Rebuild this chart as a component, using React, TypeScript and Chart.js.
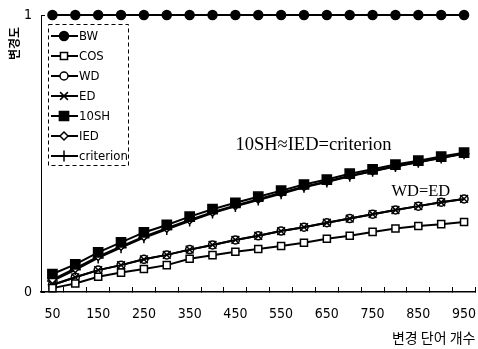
import React, { useEffect, useRef } from 'react';
import { Chart, registerables } from 'chart.js';
import { drawPoint } from 'chart.js/helpers';

Chart.register(...registerables);

// ---------- data ----------
const categories = ['50', '100', '150', '200', '250', '300', '350', '400', '450', '500', '550', '600', '650', '700', '750', '800', '850', '900', '950'];
const bwValues = [1, 1, 1, 1, 1, 1, 1, 1, 1, 1, 1, 1, 1, 1, 1, 1, 1, 1, 1];
const cosValues = [0.014, 0.031, 0.055, 0.07, 0.083, 0.097, 0.12, 0.133, 0.145, 0.155, 0.166, 0.178, 0.192, 0.203, 0.217, 0.229, 0.238, 0.245, 0.253];
const wdValues = [0.026, 0.053, 0.079, 0.097, 0.118, 0.134, 0.153, 0.17, 0.188, 0.203, 0.22, 0.234, 0.25, 0.265, 0.281, 0.296, 0.31, 0.324, 0.336];
const edValues = [0.025, 0.053, 0.079, 0.097, 0.118, 0.134, 0.153, 0.17, 0.188, 0.203, 0.22, 0.234, 0.25, 0.265, 0.281, 0.296, 0.31, 0.324, 0.336];
const tenShValues = [0.065, 0.1, 0.143, 0.179, 0.215, 0.242, 0.272, 0.299, 0.322, 0.344, 0.366, 0.388, 0.406, 0.427, 0.443, 0.46, 0.474, 0.489, 0.503];
const iedValues = [0.045, 0.085, 0.128, 0.165, 0.2, 0.23, 0.26, 0.288, 0.312, 0.335, 0.358, 0.38, 0.399, 0.42, 0.437, 0.454, 0.469, 0.485, 0.5];
const criterionValues = [0.04, 0.08, 0.123, 0.16, 0.196, 0.226, 0.256, 0.285, 0.309, 0.332, 0.355, 0.378, 0.397, 0.418, 0.436, 0.453, 0.468, 0.484, 0.499];
const seriesNames = ['BW', 'COS', 'WD', 'ED', '10SH', 'IED', 'criterion'];
const yTickValues = [0, 1];
const xTitle = '변경 단어 개수';
const yTitle = '변경도';
const note1 = '10SH≈IED=criterion';
const note2 = 'WD=ED';

const NARROW = "'Liberation Sans Narrow', 'DejaVu Sans Condensed', 'Liberation Sans', Arial, sans-serif";
const SERIF = "'Liberation Serif', 'DejaVu Serif', serif";
const KR = "'Noto Sans CJK KR', 'Noto Sans', sans-serif";

function mk(label: string, data: number[], style: string, radius: number, fill: string, order = 0) {
  return {
    label,
    data,
    order,
    borderColor: '#000',
    borderWidth: 2,
    pointStyle: style,
    pointRadius: radius,
    pointHoverRadius: radius,
    pointBackgroundColor: fill,
    pointBorderColor: '#000',
    pointBorderWidth: 1.5,
    tension: 0,
    clip: false as any,
  };
}

// stretch the plot area to the right edge (keeps a 2.5px margin)
const areaPlugin = {
  id: 'areaFix',
  afterLayout(chart: any) {
    const xs = chart.scales.x;
    const target = chart.width - 2.5;
    const d = target - chart.chartArea.right;
    if (Math.abs(d) < 0.01) return;
    chart.chartArea.right = target;
    chart.chartArea.width += d;
    xs.right = target;
    xs.width += d;
    xs.configure();
  },
};

const legendPlugin = {
  id: 'boxLegend',
  afterDatasetsDraw(chart: any) {
    const { ctx, chartArea } = chart;
    const x0 = chartArea.left + 7;
    const y0 = chartArea.top + 9;
    const w = 80;
    const h = 141;
    ctx.save();
    ctx.fillStyle = '#fff';
    ctx.fillRect(x0, y0, w, h);
    ctx.setLineDash([4, 3]);
    ctx.strokeStyle = '#000';
    ctx.lineWidth = 1;
    ctx.strokeRect(x0 + 0.5, y0 + 0.5, w, h);
    ctx.setLineDash([]);
    chart.data.datasets.forEach((ds: any, i: number) => {
      const y = y0 + 12 + i * 20;
      ctx.beginPath();
      ctx.moveTo(x0 + 3, y);
      ctx.lineTo(x0 + 30, y);
      ctx.lineWidth = 2;
      ctx.strokeStyle = '#000';
      ctx.stroke();
      ctx.fillStyle = ds.pointBackgroundColor;
      ctx.lineWidth = ds.pointBorderWidth;
      drawPoint(ctx, { pointStyle: ds.pointStyle, radius: ds.pointRadius, rotation: 0, borderWidth: ds.pointBorderWidth } as any, x0 + 16, y);
      ctx.fillStyle = '#000';
      ctx.font = `13px ${NARROW}`;
      ctx.textAlign = 'left';
      ctx.textBaseline = 'middle';
      ctx.fillText(ds.label, x0 + 31, y + 1);
    });
    ctx.restore();
  },
};

const notesPlugin = {
  id: 'notes',
  afterDatasetsDraw(chart: any) {
    const { ctx } = chart;
    const xs = chart.scales.x;
    const ys = chart.scales.y;
    ctx.save();
    ctx.fillStyle = '#000';
    ctx.textAlign = 'left';
    ctx.textBaseline = 'alphabetic';
    ctx.font = `18.5px ${SERIF}`;
    ctx.fillText(note1, xs.getPixelForValue(8), ys.getPixelForValue(0.512));
    ctx.font = `16.5px ${SERIF}`;
    ctx.fillText(note2, xs.getPixelForValue(15) - 4, ys.getPixelForValue(0.348));
    ctx.restore();
  },
};

export default function App() {
  const ref = useRef<HTMLCanvasElement | null>(null);
  useEffect(() => {
    if (!ref.current) return;
    const chart = new Chart(ref.current, {
      type: 'line',
      data: {
        labels: categories,
        datasets: [
          mk(seriesNames[0], bwValues, 'circle', 4.5, '#000'),
          mk(seriesNames[1], cosValues, 'rect', 5, '#fff'),
          mk(seriesNames[2], wdValues, 'circle', 4, '#fff', 1),
          mk(seriesNames[3], edValues, 'crossRot', 5.5, '#fff'),
          mk(seriesNames[4], tenShValues, 'rect', 6.5, '#000'),
          mk(seriesNames[5], iedValues, 'rectRot', 4, '#fff'),
          mk(seriesNames[6], criterionValues, 'cross', 5.5, '#fff'),
        ] as any,
      },
      options: {
        animation: false,
        responsive: true,
        maintainAspectRatio: false,
        layout: { padding: { top: 15, right: 2.5, left: 0, bottom: 0 } },
        plugins: { legend: { display: false }, tooltip: { enabled: false } },
        scales: {
          x: {
            type: 'category',
            offset: true,
            grid: { offset: true, drawOnChartArea: false, drawTicks: true, tickLength: -5, color: '#000', lineWidth: 1 },
            border: { display: true, color: '#000', width: 1.5 },
            ticks: {
              autoSkip: false,
              maxRotation: 0,
              padding: 19,
              color: '#000',
              font: { family: NARROW, size: 14 },
              callback: (_v: any, i: number) => (i % 2 === 0 ? categories[i] : ''),
            },
            title: {
              display: true,
              text: xTitle,
              align: 'end',
              color: '#000',
              font: { family: KR, size: 14 },
              padding: { top: 0, bottom: 3 },
            },
            afterFit: (s: any) => { s.height = 57; s.paddingLeft = 0; s.paddingRight = 0; },
          },
          y: {
            min: 0,
            max: 1,
            afterBuildTicks: (s: any) => { s.ticks = yTickValues.map((v) => ({ value: v })); },
            grid: { drawOnChartArea: false, drawTicks: true, tickLength: -4, color: '#000' },
            border: { display: true, color: '#000', width: 1, dash: [4, 3] },
            ticks: {
              padding: 13,
              color: '#000',
              font: { family: NARROW, size: 14 },
              callback: (v: any) => String(v),
            },
            title: {
              display: true,
              text: yTitle + '\u3000',
              align: 'end',
              color: '#000',
              font: { family: KR, size: 12, weight: 'bold' },
              padding: { top: 7, bottom: 0 },
            },
            afterFit: (s: any) => { s.width = 41; s.paddingTop = 0; s.paddingBottom = 0; },
          },
        },
      } as any,
      plugins: [areaPlugin, legendPlugin, notesPlugin],
    });
    return () => chart.destroy();
  }, []);
  return (
    <div style={{ position: 'absolute', left: 0, top: 0, width: 478, height: 349, background: '#fff' }}>
      <canvas ref={ref} />
    </div>
  );
}
